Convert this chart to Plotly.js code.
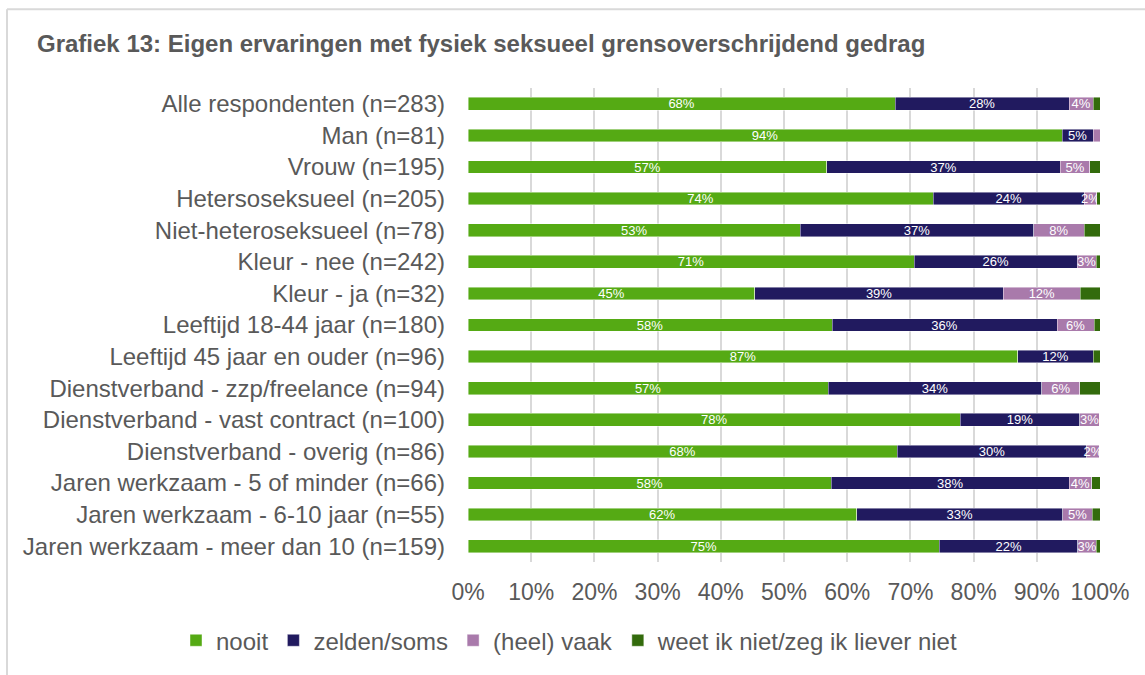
<!DOCTYPE html>
<html>
<head>
<meta charset="utf-8">
<script src="https://cdn.plot.ly/plotly-3.0.1.min.js"></script>
<style>
  html, body { margin: 0; padding: 0; background: #ffffff; }
  #chart { width: 1145px; height: 675px; }
</style>
</head>
<body>
<div id="chart"></div>
<script>
// ---- Data ----
const categories = [
  "Alle respondenten (n=283)",
  "Man (n=81)",
  "Vrouw (n=195)",
  "Hetersoseksueel (n=205)",
  "Niet-heteroseksueel (n=78)",
  "Kleur - nee (n=242)",
  "Kleur - ja (n=32)",
  "Leeftijd 18-44 jaar (n=180)",
  "Leeftijd 45 jaar en ouder (n=96)",
  "Dienstverband - zzp/freelance (n=94)",
  "Dienstverband - vast contract (n=100)",
  "Dienstverband - overig (n=86)",
  "Jaren werkzaam - 5 of minder (n=66)",
  "Jaren werkzaam - 6-10 jaar (n=55)",
  "Jaren werkzaam - meer dan 10 (n=159)"
];
const seriesNames = ["nooit", "zelden/soms", "(heel) vaak", "weet ik niet/zeg ik liever niet"];
const nooit  = [67.6, 94.0, 56.8, 73.6, 52.6, 70.6, 45.4, 57.6, 87.0, 57.0, 77.9, 67.9, 57.5, 61.5, 74.6];
const zelden = [27.5,  4.9, 36.9, 23.9, 36.9, 25.8, 39.3, 35.6, 11.9, 33.8, 18.9, 30.0, 37.6, 32.6, 21.9];
const vaak   = [ 3.8,  1.1,  4.7,  2.0,  8.0,  3.0, 12.2,  5.9,  0.0,  6.0,  3.1,  2.0,  3.6,  4.7,  2.9];
const weet   = [ 1.1,  0.0,  1.6,  0.5,  2.5,  0.6,  3.1,  0.9,  1.1,  3.2,  0.0,  0.0,  1.3,  1.2,  0.6];
const xTickVals = [0, 10, 20, 30, 40, 50, 60, 70, 80, 90, 100];
const titleText = "Grafiek 13: Eigen ervaringen met fysiek seksueel grensoverschrijdend gedrag";

// ---- Styling ----
const colors = ["#55AA14", "#211A5F", "#A97AAB", "#336B0C"];
const txtGrey = "#595959";
const FONT = "Liberation Sans, Arial, sans-serif";

function labels(vals, show) {
  return vals.map(v => (show && v >= 1.5) ? Math.round(v) + "%" : "");
}

const allSeries = [nooit, zelden, vaak, weet];
const traces = allSeries.map((vals, i) => ({
  type: "bar",
  orientation: "h",
  name: seriesNames[i],
  y: categories,
  x: vals,
  text: labels(vals, i < 3),
  textposition: "inside",
  insidetextanchor: "middle",
  textangle: 0,
  constraintext: "none",
  textfont: { family: FONT, size: 13, color: "#ffffff" },
  marker: { color: colors[i], line: { color: "rgba(255,255,255,0.55)", width: 0.8 } },
  hoverinfo: "skip",
  cliponaxis: false
}));

// pixel helpers for decorative frame
const W = 1145, H = 675;
const mL = 468, mR = 45, mT = 88, mB = 111;
const pw = W - mL - mR, ph = H - mT - mB;
const px = x => (x - mL) / pw;
const py = y => (H - mB - y) / ph;

const layout = {
  width: W,
  height: H,
  margin: { l: mL, r: mR, t: mT, b: mB, pad: 0 },
  paper_bgcolor: "#ffffff",
  plot_bgcolor: "#ffffff",
  barmode: "stack",
  bargap: 0.6,
  font: { family: FONT, color: txtGrey, size: 23 },
  title: {
    text: "<b>" + titleText + "</b>",
    font: { family: FONT, size: 24, color: txtGrey },
    x: 37 / W, xref: "container", xanchor: "left",
    y: 1 - 44 / H, yref: "container", yanchor: "middle"
  },
  xaxis: {
    range: [0, 100],
    tickvals: xTickVals,
    ticktext: xTickVals.map(v => v + "%"),
    showgrid: true,
    gridcolor: "#D9D9D9",
    gridwidth: 2,
    zeroline: false,
    showline: false,
    ticks: "",
    ticklabelstandoff: 14,
    tickfont: { family: FONT, size: 23, color: txtGrey },
    fixedrange: true
  },
  yaxis: {
    type: "category",
    autorange: "reversed",
    showgrid: false,
    zeroline: false,
    showline: false,
    ticks: "",
    ticklabelstandoff: 22,
    tickfont: { family: FONT, size: 24, color: txtGrey },
    fixedrange: true
  },
  uniformtext: { minsize: 13, mode: "show" },
  showlegend: true,
  legend: {
    orientation: "h",
    x: px(176), xanchor: "left",
    y: py(643), yanchor: "middle",
    font: { family: FONT, size: 24, color: txtGrey },
    traceorder: "normal",
    itemclick: false,
    itemdoubleclick: false
  },
  shapes: [
    { type: "line", xref: "paper", yref: "paper", x0: px(7), x1: px(7), y0: py(9), y1: py(700),
      line: { color: "#D9D9D9", width: 2 }, layer: "below" },
    { type: "line", xref: "paper", yref: "paper", x0: px(7), x1: px(1200), y0: py(9), y1: py(9),
      line: { color: "#D9D9D9", width: 2 }, layer: "below" }
  ]
};

Plotly.newPlot("chart", traces, layout, { displayModeBar: false, staticPlot: true });
</script>
</body>
</html>
